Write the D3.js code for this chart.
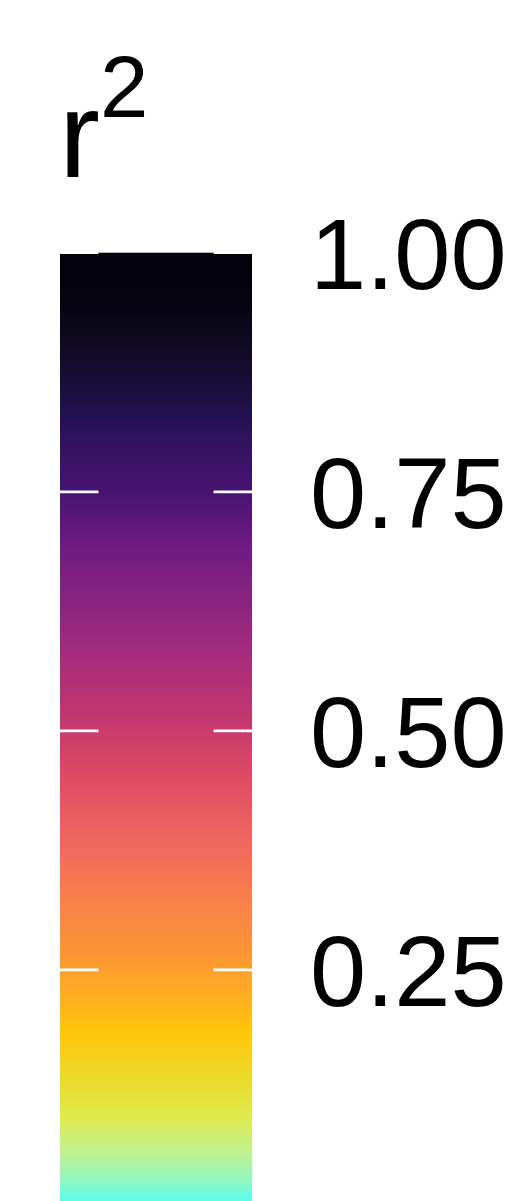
<!DOCTYPE html>
<html><head><meta charset="utf-8">
<script src="https://cdn.jsdelivr.net/npm/d3@7"></script>
<style>html,body{margin:0;padding:0;background:#fff;overflow:hidden}</style>
</head><body>
<script>
// Data
const stopValues = [0, 0.01, 0.03, 0.06, 0.10, 0.13, 0.185, 0.22, 0.27, 0.32, 0.37, 0.41, 0.46, 0.50, 0.525, 0.58, 0.65, 0.70, 0.75, 0.80, 0.83, 0.86, 0.90, 0.95, 1.00];
const stopColors = ["#58fcec", "#5efce8", "#90f8c0", "#c4f190", "#e0ea48", "#e9dd30", "#ffc60a", "#feb020", "#fb9435", "#f9824a", "#f26c5b", "#e95d62", "#db4765", "#c93c6c", "#bd3570", "#a52c7c", "#822280", "#6a1a80", "#471370", "#321260", "#221150", "#1a0e3c", "#100a22", "#05040f", "#03020d"];
const tickValues = [0.25, 0.50, 0.75, 1.00];
const tickLabels = ["0.25", "0.50", "0.75", "1.00"];
const titleMain = "r";
const titleSup = "2";

const W = 523, H = 1201;
const svg = d3.select("body").append("svg").attr("width", W).attr("height", H);

const y = d3.scaleLinear().domain([0, 1]).range([1209, 252.7]);
const barX0 = 60, barX1 = 252;
const tickLen = (barX1 - barX0) / 5;

const defs = svg.append("defs");
const grad = defs.append("linearGradient").attr("id", "cb")
  .attr("gradientUnits", "userSpaceOnUse")
  .attr("x1", 0).attr("x2", 0).attr("y1", y(0)).attr("y2", y(1));
grad.selectAll("stop").data(stopValues).join("stop")
  .attr("offset", d => d)
  .attr("stop-color", (d, i) => stopColors[i]);

svg.append("rect")
  .attr("x", barX0).attr("width", barX1 - barX0)
  .attr("y", y(1)).attr("height", y(0) - y(1))
  .attr("fill", "url(#cb)");

const tg = svg.append("g");
tickValues.forEach(v => {
  tg.append("line").attr("x1", barX0).attr("x2", barX0 + tickLen)
    .attr("y1", y(v)).attr("y2", y(v)).attr("stroke", "#fff").attr("stroke-width", 2.8);
  tg.append("line").attr("x1", barX1 - tickLen).attr("x2", barX1)
    .attr("y1", y(v)).attr("y2", y(v)).attr("stroke", "#fff").attr("stroke-width", 2.8);
});

svg.append("g").selectAll("text").data(tickValues).join("text")
  .attr("x", 310).attr("y", d => y(d) + 36)
  .attr("font-family", "Liberation Sans, Arial, sans-serif")
  .attr("font-size", 101).attr("fill", "#000")
  .text((d, i) => tickLabels[i]);

svg.append("text").attr("x", 59).attr("y", 177)
  .attr("font-family", "Liberation Sans, Arial, sans-serif")
  .attr("font-size", 123).attr("fill", "#000").text(titleMain);
svg.append("text").attr("x", 100).attr("y", 117)
  .attr("font-family", "Liberation Sans, Arial, sans-serif")
  .attr("font-size", 87).attr("fill", "#000").text(titleSup);
</script>
</body></html>
